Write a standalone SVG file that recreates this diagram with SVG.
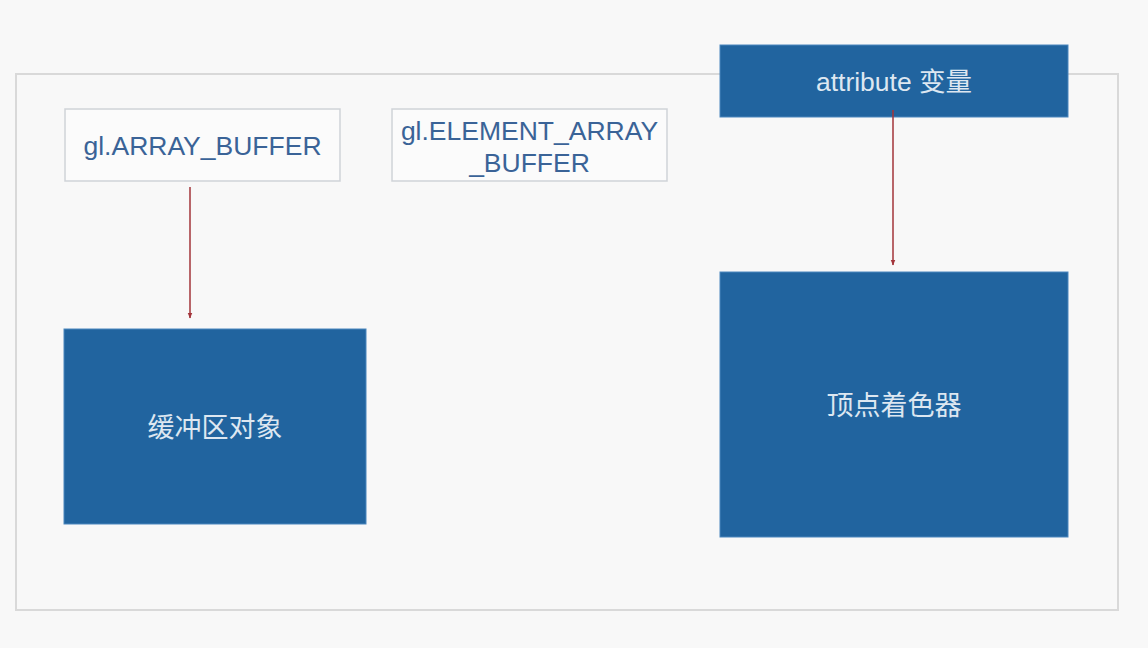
<svg xmlns="http://www.w3.org/2000/svg" width="1148" height="648" viewBox="0 0 1148 648">
<defs>
<style>
.frame{fill:#f8f8f8;stroke:#d9d9d9;stroke-width:2}
.light{fill:#fbfbfb;stroke:#cfd3d8;stroke-width:1.5}
.dark{fill:#21649f;stroke:#4a86bd;stroke-width:1}
.lt{font-family:"Liberation Sans","Noto Sans CJK SC",sans-serif;font-size:26.5px;fill:#3a6397;text-anchor:middle}
.dt{font-family:"Liberation Sans","Noto Sans CJK SC",sans-serif;font-size:26.5px;fill:#dde7f1;text-anchor:middle}
.ct{font-family:"Noto Sans CJK SC",sans-serif;font-size:27px;fill:#dde7f1;text-anchor:middle}
.conn{stroke:#a3343a;stroke-width:1.5;fill:none}
</style>
<marker id="ah" viewBox="0 0 10 10" refX="9" refY="5" markerWidth="6" markerHeight="6" orient="auto" markerUnits="userSpaceOnUse">
<path d="M0,1 L10,5 L0,9 Z" fill="#a3343a"/>
</marker>
</defs>
<rect x="0" y="0" width="1148" height="648" fill="#f8f8f8"/>
<rect id="frame" class="frame" x="16" y="74" width="1102" height="536"/>
<g id="array-buffer">
<rect class="light" x="65" y="109" width="275" height="72"/>
<text class="lt" x="202.5" y="155">gl.ARRAY_BUFFER</text>
</g>
<g id="element-array-buffer">
<rect class="light" x="392" y="109" width="275" height="72"/>
<text class="lt" x="529.5" y="140">gl.ELEMENT_ARRAY</text>
<text class="lt" x="529.5" y="172">_BUFFER</text>
</g>
<g id="attribute">
<rect class="dark" x="720" y="45" width="348" height="72"/>
<text class="dt" x="894" y="91">attribute 变量</text>
</g>
<g id="buffer-object">
<rect class="dark" x="64" y="329" width="302" height="195"/>
<text class="ct" x="215" y="437">缓冲区对象</text>
</g>
<g id="vertex-shader">
<rect class="dark" x="720" y="272" width="348" height="265"/>
<text class="ct" x="894" y="415">顶点着色器</text>
</g>
<g id="connectors">
<line class="conn" x1="190" y1="187" x2="190" y2="318" marker-end="url(#ah)"/>
<line class="conn" x1="893" y1="110" x2="893" y2="265" marker-end="url(#ah)"/>
</g>
</svg>
